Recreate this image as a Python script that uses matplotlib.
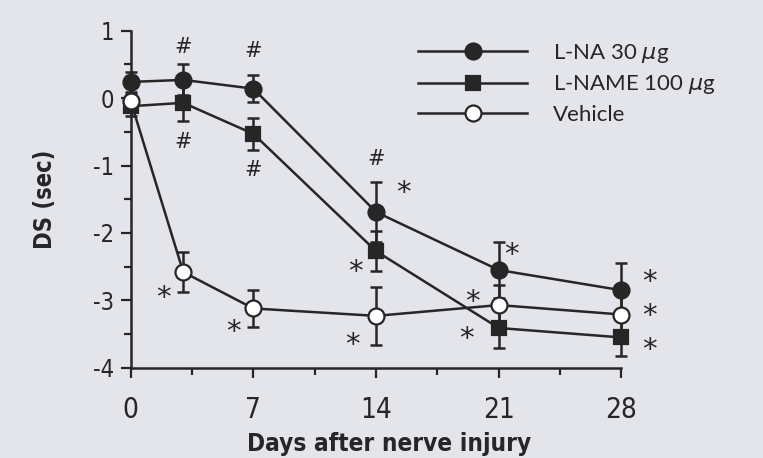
import matplotlib
matplotlib.use("Agg")
import matplotlib.pyplot as plt
from matplotlib import font_manager
from matplotlib.ticker import MultipleLocator

plt.rcParams["axes.unicode_minus"] = False

# days after nerve injury
days = [0, 3, 7, 14, 21, 28]

# DS (sec), mean and error for each group
lna_mean = [0.24, 0.27, 0.14, -1.69, -2.55, -2.85]
lna_err = [0.15, 0.23, 0.20, 0.45, 0.42, 0.40]
lname_mean = [-0.12, -0.07, -0.53, -2.27, -3.41, -3.55]
lname_err = [0.15, 0.27, 0.24, 0.30, 0.30, 0.28]
veh_mean = [-0.04, -2.58, -3.12, -3.23, -3.07, -3.21]
veh_err = [0.10, 0.30, 0.28, 0.43, 0.30, 0.30]

labels = ["L-NA 30 $\\mu$g", "L-NAME 100 $\\mu$g", "Vehicle"]
xticks = [0, 7, 14, 21, 28]
yticks = [1, 0, -1, -2, -3, -4]

# significance marks: (group, point index, symbol, dx, dy) offsets in points
marks = [
    ("lna", 1, "#", 0, 24),
    ("lna", 2, "#", 0, 27),
    ("lna", 3, "#", 0, 38),
    ("lname", 1, "#", 0, -28),
    ("lname", 2, "#", 0, -26),
    ("lna", 3, "*", 20, 14),
    ("lname", 3, "*", -15, -15),
    ("veh", 1, "*", -14, -19),
    ("veh", 2, "*", -14, -17),
    ("veh", 3, "*", -17, -21),
    ("lna", 4, "*", 9, 11),
    ("veh", 4, "*", -19, 2),
    ("lname", 4, "*", -23, -8),
    ("lna", 5, "*", 20, 6),
    ("veh", 5, "*", 20, -1),
    ("lname", 5, "*", 20, -9),
]

bg = "#e4e4eb"
ink = "#262626"

fig = plt.figure(figsize=(7.63, 4.58), dpi=100, facecolor=bg)
ax = fig.add_axes([0.1712, 0.197, 0.6433, 0.736], facecolor=bg)

series = {
    "lna": (lna_mean, lna_err, "o", ink),
    "lname": (lname_mean, lname_err, "s", ink),
    "veh": (veh_mean, veh_err, "o", "white"),
}
handles = []
for key, lab in zip(["lna", "lname", "veh"], labels):
    m, e, mk, fc = series[key]
    eb = ax.errorbar(days, m, yerr=e, fmt="none", ecolor=ink, elinewidth=1.8,
                     capsize=4.5, capthick=1.8, zorder=2)
    for art in eb.lines[1] + eb.lines[2]:
        art.set_clip_on(False)
    h, = ax.plot(days, m, color=ink, lw=1.8, marker=mk, ms=11.5 if mk == "o" else 10.5,
                 mfc=fc, mec=ink, mew=1.6, label=lab, zorder=3, clip_on=False)
    handles.append(h)

for key, i, sym, dx, dy in marks:
    m = series[key][0]
    ax.annotate(sym, xy=(days[i], m[i]), xytext=(dx, dy), textcoords="offset points",
                ha="center", va="center", fontsize=21 if sym == "*" else 15,
                color=ink, family="DejaVu Sans")

ax.set_xlim(0, 28)
ax.set_ylim(-4, 1)
ax.set_xticks(xticks)
ax.set_yticks(yticks)
ax.xaxis.set_minor_locator(MultipleLocator(3.5))
ax.yaxis.set_minor_locator(MultipleLocator(0.5))
for s in ["top", "right"]:
    ax.spines[s].set_visible(False)
for s in ["left", "bottom"]:
    ax.spines[s].set_linewidth(1.8)
    ax.spines[s].set_color(ink)
ax.tick_params(which="both", direction="out", color=ink, width=1.6)
ax.tick_params(which="major", length=7, pad=5)
ax.tick_params(which="minor", length=5)

tickfont = font_manager.FontProperties(family="DejaVu Sans", stretch="condensed")
for t in ax.get_xticklabels():
    t.set_fontproperties(tickfont)
    t.set_fontsize(20)
    t.set_color(ink)
for t in ax.get_yticklabels():
    t.set_fontproperties(tickfont)
    t.set_fontsize(17)
    t.set_color(ink)
ax.tick_params(axis="x", pad=13)

ax.set_xlabel("Days after nerve injury", fontsize=17.5, fontweight="bold",
              fontstretch="condensed", family="DejaVu Sans", color=ink, labelpad=6)
ax.xaxis.label.set_x(0.526)
ax.set_ylabel("DS (sec)", fontsize=17, fontweight="bold",
              fontstretch="condensed", family="DejaVu Sans", color=ink, labelpad=26)

leg = ax.legend(handles=handles, loc="upper left", bbox_to_anchor=(0.545, 1.026),
                frameon=False, handlelength=4.9, handletextpad=1.15,
                labelspacing=0.38, prop={"family": "Lato", "size": 16})
for t in leg.get_texts():
    t.set_color(ink)

fig.savefig("out.png", dpi=100, facecolor=bg)
